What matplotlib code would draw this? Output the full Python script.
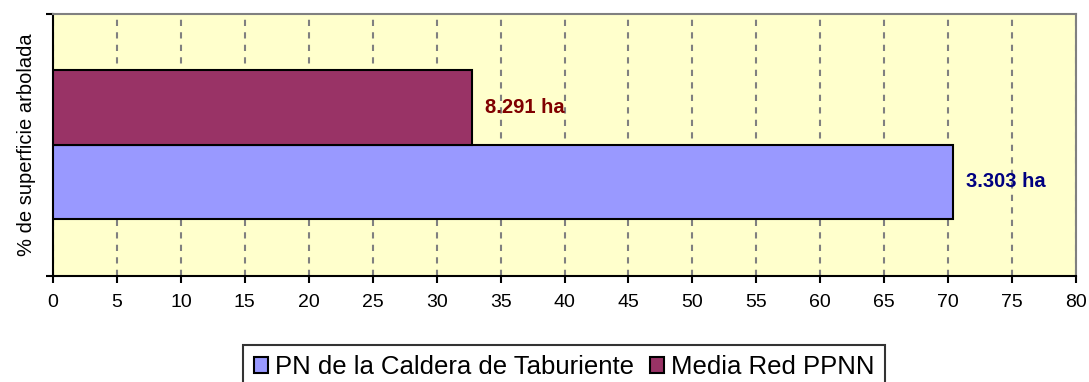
import matplotlib.pyplot as plt
from matplotlib.patches import Patch

plt.rcParams['font.family'] = ['Liberation Sans', 'DejaVu Sans']

# datos
series = ['PN de la Caldera de Taburiente', 'Media Red PPNN']
valores = [70.4, 32.8]
etiquetas = ['3.303 ha', '8.291 ha']
colores = ['#9999FF', '#993366']
colores_txt = ['#000080', '#800000']
xticks = list(range(0, 85, 5))

fig = plt.figure(figsize=(10.89, 3.82), dpi=100)
ax = fig.add_axes([0.0487, 0.2775, 0.9394, 0.6859])
ax.set_facecolor('#FFFFCC')

ypos = [-0.5, 0.5]
for y, v, c, lab, ct in zip(ypos, valores, colores, etiquetas, colores_txt):
    ax.barh(y, v, height=1.0, color=c, edgecolor='black', linewidth=1.5, zorder=3)
    ax.text(v + 1.0, y, lab, color=ct, fontsize=14.5, fontweight='bold',
            va='center', ha='left', zorder=4)

ax.set_xlim(0, 80)
ax.set_ylim(-1.77, 1.76)
ax.set_xticks(xticks)
ax.set_xticklabels([str(t) for t in xticks], fontsize=14)
ax.set_yticks([-1.77, 1.76])
ax.set_yticklabels([])
ax.tick_params(axis='x', direction='out', length=5, width=1.5, pad=8)
ax.tick_params(axis='y', direction='out', length=5, width=1.5)
ax.grid(axis='x', color='#808080', linestyle=(0, (3, 3)), linewidth=1.5, zorder=1)
for s in ['top', 'right']:
    ax.spines[s].set_color('#808080')
    ax.spines[s].set_linewidth(1.5)
for s in ['left', 'bottom']:
    ax.spines[s].set_color('black')
    ax.spines[s].set_linewidth(1.5)
ax.set_ylabel('% de superficie arbolada', fontsize=14.5, labelpad=4)

handles = [Patch(facecolor=c, edgecolor='black', linewidth=1.5, label=s)
           for s, c in zip(series, colores)]
leg = fig.legend(handles=handles, loc='upper center', bbox_to_anchor=(564 / 1089, 1 - 345 / 382),
                 ncol=2, fontsize=18.5, frameon=True, fancybox=False, edgecolor='black',
                 handlelength=0.55, handleheight=0.55, handletextpad=0.27, columnspacing=0.62,
                 borderpad=0.4, borderaxespad=0)
leg.get_frame().set_linewidth(1.5)

fig.savefig('out.png', dpi=100)
